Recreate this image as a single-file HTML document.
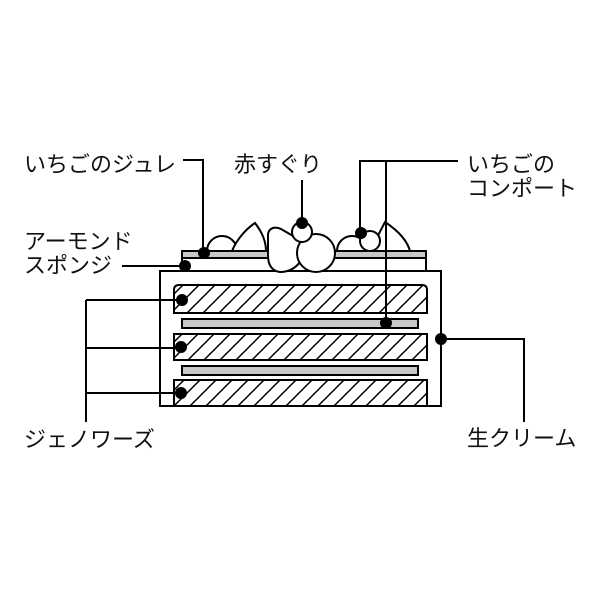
<!DOCTYPE html>
<html><head><meta charset="utf-8">
<style>
html,body{margin:0;padding:0;background:#fff;}
svg{display:block;}
text{font-family:"Liberation Sans","Noto Sans CJK JP",sans-serif;font-size:22px;fill:#111;}
</style></head>
<body>
<svg width="600" height="600" viewBox="0 0 600 600" xmlns="http://www.w3.org/2000/svg">
<defs>
<pattern id="h" patternUnits="userSpaceOnUse" x="4" y="0" width="16" height="16">
<line x1="0" y1="16" x2="16" y2="0" stroke="#000" stroke-width="1.5"/>
<line x1="-4" y1="4" x2="4" y2="-4" stroke="#000" stroke-width="1.5"/>
<line x1="12" y1="20" x2="20" y2="12" stroke="#000" stroke-width="1.5"/>
</pattern>
</defs>
<rect x="0" y="0" width="600" height="600" fill="#fff"/>

<!-- outer cream box -->
<rect x="160" y="271" width="281" height="135" fill="#fff" stroke="#000" stroke-width="2"/>

<!-- genoise layers -->
<path d="M174 313 L174 290 Q174 285 179 285 L422 285 Q427 285 427 290 L427 313 Z" fill="url(#h)" stroke="#000" stroke-width="2"/>
<rect x="182" y="319" width="236" height="9" fill="#c8c8c8" stroke="#000" stroke-width="2"/>
<rect x="174" y="334" width="253" height="26" fill="url(#h)" stroke="#000" stroke-width="2"/>
<rect x="182" y="366" width="236" height="9" fill="#c8c8c8" stroke="#000" stroke-width="2"/>
<rect x="174" y="380" width="253" height="26" fill="url(#h)" stroke="#000" stroke-width="2"/>

<!-- almond sponge + jelly -->
<rect x="182" y="251" width="244" height="20" fill="#fff" stroke="#000" stroke-width="2"/>
<rect x="182" y="251" width="244" height="7" fill="#c8c8c8" stroke="#000" stroke-width="2"/>

<!-- fruits -->
<path d="M207 251 A15 15 0 0 1 237 251 Z" fill="#fff" stroke="#000" stroke-width="2"/>
<path d="M232 251 C237 239 246 229 255 223 C262 232 266 242 266 251 Z" fill="#fff" stroke="#000" stroke-width="2"/>
<path d="M337 251 A15 15 0 0 1 367 251 Z" fill="#fff" stroke="#000" stroke-width="2"/>
<path d="M370 251 L385 222 C397 230 407 240 410 251 Z" fill="#fff" stroke="#000" stroke-width="2"/>
<path d="M268 234 C269 228 275 226 281 229 L300 240 L300 262 C294 270 287 272 280 272 C272 271 268 265 268 255 Z" fill="#fff" stroke="#000" stroke-width="2"/>
<circle cx="316" cy="253" r="19" fill="#fff" stroke="#000" stroke-width="2"/>
<circle cx="302" cy="232" r="10" fill="#fff" stroke="#000" stroke-width="2"/>
<circle cx="370" cy="241" r="10" fill="#fff" stroke="#000" stroke-width="2"/>

<!-- leader lines -->
<g fill="none" stroke="#000" stroke-width="2">
<polyline points="183,160 203,160 203,253"/>
<line x1="122" y1="266" x2="185" y2="266"/>
<line x1="302" y1="180" x2="302" y2="223"/>
<polyline points="458,161 360,161 360,233"/>
<line x1="386" y1="161" x2="386" y2="323"/>
<line x1="86" y1="300" x2="86" y2="422"/>
<line x1="86" y1="300" x2="182" y2="300"/>
<line x1="86" y1="348" x2="182" y2="348"/>
<line x1="86" y1="393" x2="182" y2="393"/>
<polyline points="441,339 524,339 524,422"/>
</g>

<!-- dots -->
<g fill="#000">
<circle cx="204" cy="253" r="6"/>
<circle cx="185" cy="266" r="6"/>
<circle cx="302" cy="223" r="6"/>
<circle cx="361" cy="233" r="6"/>
<circle cx="386" cy="323" r="6"/>
<circle cx="182" cy="300" r="6"/>
<circle cx="181" cy="347" r="6"/>
<circle cx="181" cy="393" r="6"/>
<circle cx="441" cy="339" r="6"/>
</g>

<!-- labels -->
<text x="24" y="172">いちごのジュレ</text>
<text x="234" y="172">赤すぐり</text>
<text x="467" y="172">いちごの</text>
<text x="467" y="196">コンポート</text>
<text x="24" y="249">アーモンド</text>
<text x="24" y="273">スポンジ</text>
<text x="24" y="447">ジェノワーズ</text>
<text x="467" y="446">生クリーム</text>
</svg>
</body></html>
